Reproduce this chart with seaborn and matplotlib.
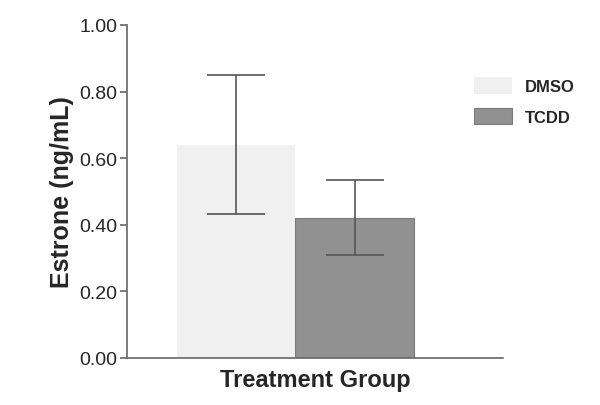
import pandas as pd
import seaborn as sns
import matplotlib.pyplot as plt

# values
groups = ['DMSO', 'TCDD']
means = [0.642, 0.421]
errs = [0.209, 0.113]
colors = ['#f0f0f0', '#919191']

df = pd.DataFrame({'x': ['all', 'all'], 'treatment': groups, 'estrone': means})

sns.set_style('white')
plt.rcParams['font.family'] = ['Liberation Sans', 'DejaVu Sans']

fig = plt.figure(figsize=(6, 4.06), dpi=100)
ax = fig.add_axes([0.2117, 0.1158, 0.6266, 0.8202])

sns.barplot(data=df, x='x', y='estrone', hue='treatment', hue_order=groups,
            palette=colors, saturation=1, errorbar=None, width=0.8, ax=ax,
            legend=False)

# error bars on top of each bar
for i, p in enumerate(ax.patches[:len(groups)]):
    cx = p.get_x() + p.get_width() / 2
    ax.errorbar(cx, p.get_height(), yerr=errs[i], color='#555555',
                elinewidth=1.2, capsize=21, capthick=1.2, fmt='none')
ax.patches[1].set_edgecolor('#7a7a7a')
ax.patches[1].set_linewidth(0.8)

ax.set_xlim(-0.565, 0.699)
ax.set_ylim(0, 1.0)
ax.set_yticks([0, 0.2, 0.4, 0.6, 0.8, 1.0])
ax.set_yticklabels(['%.2f' % v for v in [0, 0.2, 0.4, 0.6, 0.8, 1.0]], fontsize=14)
ax.set_xticks([])
ax.set_xlabel('Treatment Group', fontsize=17, fontweight='bold', labelpad=7)
ax.set_ylabel('Estrone (ng/mL)', fontsize=18, fontweight='bold', labelpad=4)

sns.despine(ax=ax)
for s in ['left', 'bottom']:
    ax.spines[s].set_color('#666666')
    ax.spines[s].set_linewidth(1.2)
ax.tick_params(axis='y', left=True, direction='out', length=5, width=1.2,
               color='#666666', pad=2)

handles = [plt.Rectangle((0, 0), 1, 1, facecolor=colors[0], edgecolor='none'),
           plt.Rectangle((0, 0), 1, 1, facecolor=colors[1], edgecolor='#7a7a7a', linewidth=0.8)]
leg = fig.legend(handles, groups, loc='upper left', bbox_to_anchor=(0.7767, 0.828),
                 frameon=False, borderpad=0, handlelength=2.28, handleheight=1.14,
                 labelspacing=0.84, handletextpad=0.78,
                 prop={'size': 12, 'weight': 'bold'})

fig.savefig('out.png', dpi=100)
